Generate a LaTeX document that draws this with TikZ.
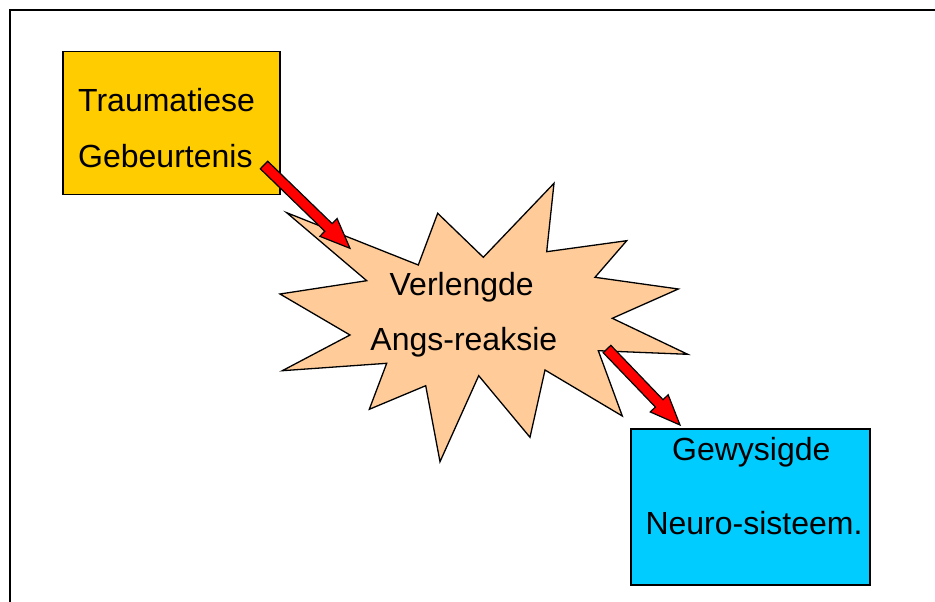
\documentclass[tikz,border=0pt]{standalone}
\usepackage{fontspec}
\setmainfont{Liberation Sans}
\usetikzlibrary{calc}
\definecolor{trauma}{HTML}{FFCC00}
\definecolor{starfill}{HTML}{FFCC99}
\definecolor{neuro}{HTML}{00CCFF}
\newcommand\myblockarrow[2]{%
  \path ($(#2)!30pt!(#1)$) coordinate (hb);
  \draw[blockarr] ($(#1)!5.3pt!90:(#2)$) -- ($(hb)!5.3pt!-90:(#1)$)
    -- ($(hb)!12.4pt!-90:(#1)$) -- (#2) -- ($(hb)!12.4pt!90:(#1)$)
    -- ($(hb)!5.3pt!90:(#1)$) -- ($(#1)!5.3pt!-90:(#2)$) -- cycle;}
\begin{document}
\begin{tikzpicture}[x=1pt,y=-1pt,
  box/.style={draw=black, line width=1.3pt, inner sep=0pt},
  lbl/.style={inner sep=0pt, font=\fontsize{32}{38}\selectfont},
  blockarr/.style={fill=red, draw=black, line width=1.2pt, line join=miter},
  frame/.style={draw=black, line width=2pt}]
\useasboundingbox (0,0) rectangle (935,602);
% outer frame
\draw[frame] (10,602) -- (10,10) -- (935,10);
% boxes
\node[box, fill=trauma, minimum width=217pt, minimum height=143pt] (trauma) at (171.5,123) {};
\node[box, fill=neuro, minimum width=239pt, minimum height=156pt] (neuro) at (750.5,507) {};
% star
\coordinate (starc) at (463,322);
\draw[fill=starfill, line width=1.3pt, line join=miter]
  (286.7,212.7) -- (418.3,265) -- (437.7,213.3) -- (483.3,257.3) -- (554,183.3)
  -- (546.7,251.7) -- (626.7,240.7) -- (595,277.3) -- (678.3,289) -- (612.3,318.3)
  -- (687.7,354.3) -- (598.3,350.7) -- (622.3,416) -- (545,370) -- (530,437.3)
  -- (478.7,375.7) -- (440,461.7) -- (425.7,385.7) -- (369.3,409.3) -- (386.7,363.3)
  -- (282.3,370.7) -- (350,335) -- (280,294) -- (366.7,280.7) -- cycle;
% texts
\node[lbl, anchor=base west] (t1) at (78,111.7) {Traumatiese};
\node[lbl, anchor=base west] (t2) at (78,167.5) {Gebeurtenis};
\node[lbl, anchor=base] (s1) at (461.7,295) {Verlengde};
\node[lbl, anchor=base] (s2) at (463.8,350.5) {Angs-reaksie};
\node[lbl, anchor=base] (n1) at (751.3,460.5) {Gewysigde};
\node[lbl, anchor=base] (n2) at (754,534.5) {Neuro-sisteem.};
% arrows
\coordinate (a1s) at (264,165);
\coordinate (a1e) at (350,248.3);
\coordinate (a2s) at (607,349);
\coordinate (a2e) at (680,425);
\myblockarrow{a1s}{a1e}
\myblockarrow{a2s}{a2e}
\end{tikzpicture}
\end{document}
